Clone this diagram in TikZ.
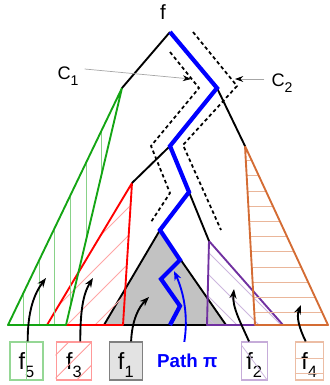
\documentclass[tikz,border=0pt]{standalone}
\usepackage{fontspec}
\setmainfont{Liberation Sans}
\usepackage{tikz}
\usetikzlibrary{positioning, calc, arrows.meta}
\definecolor{treeGreen}{RGB}{20,165,20}
\definecolor{treeRed}{RGB}{255,0,0}
\definecolor{treePurple}{RGB}{112,48,160}
\definecolor{treeOrange}{RGB}{212,108,52}
\definecolor{piBlue}{RGB}{0,0,255}
\newcommand{\lowidx}[2][14]{\raisebox{-0.33em}{\fontsize{#1}{#1}\selectfont #2}}

\begin{document}
\begin{tikzpicture}[
    x=0.03cm, y=-0.03cm,
    edge/.style={line width=1.6pt, line join=round},
    pathpi/.style={draw=piBlue, line width=3.6pt},
    channel/.style={line width=1.5pt, dash pattern=on 3pt off 2.4pt},
    hatch/.style={line width=0.7pt},
    fbox/.style={rectangle, line width=1.1pt, minimum height=32.4pt, inner sep=0pt,
                 text height=19pt, text depth=4pt, font=\fontsize{20}{24}\selectfont},
    flow/.style={line width=1.6pt, -{Stealth[length=8pt, width=6pt]}},
    pointer/.style={draw=gray!70, line width=0.6pt, -{Stealth[black, length=7pt, width=5pt]}}
  ]
  \useasboundingbox (0,0) rectangle (329,385);

  \coordinate (TOP) at (170,32);
  \coordinate (A) at (122,88);
  \coordinate (B) at (217,88);
  \coordinate (C) at (245,146);
  \coordinate (D) at (170,146);
  \coordinate (E) at (132,183);
  \coordinate (G) at (189,192);
  \coordinate (H) at (209,241);
  \coordinate (K) at (160,230);
  \coordinate (P1) at (180,260);
  \coordinate (P2) at (161,279);
  \coordinate (P3) at (180,306);
  \coordinate (P4) at (170,325);

  \coordinate (grayL) at (104,325);
  \coordinate (grayR) at (226,325);
  \coordinate (redL) at (47,325);
  \coordinate (redR) at (123,325);
  \coordinate (greenL) at (8,325);
  \coordinate (greenR) at (66,325);
  \coordinate (purL) at (207,325);
  \coordinate (purR) at (283,325);
  \coordinate (oraL) at (255,325);
  \coordinate (oraR) at (328,325);

  \draw[edge, fill=gray!48] (K) -- (grayL) -- (grayR) -- cycle;

  \begin{scope}
    \clip (E) -- (redL) -- (redR) -- cycle;
    \foreach \c in {336,364,392,420,448}
      \draw[hatch, treeRed!35] ({\c-330},330) -- ({\c-170},170);
  \end{scope}
  \draw[edge, treeRed] (E) -- (redL) -- (redR) -- cycle;

  \begin{scope}
    \clip (A) -- (greenL) -- (greenR) -- cycle;
    \foreach \x in {23,39,54,70,86,101}
      \draw[hatch, treeGreen!50] (\x,80) -- (\x,330);
  \end{scope}
  \draw[edge, treeGreen] (A) -- (greenL) -- (greenR) -- cycle;

  \begin{scope}
    \clip (H) -- (purL) -- (purR) -- cycle;
    \foreach \c in {44,66,88,110}
      \draw[hatch, treePurple!35] (200,{200+\c}) -- (290,{290+\c});
  \end{scope}
  \draw[edge, treePurple] (H) -- (purL) -- (purR) -- cycle;

  \begin{scope}
    \clip (C) -- (oraL) -- (oraR) -- cycle;
    \foreach \y in {160,175,191,206,221,236,251,267,282,297,312}
      \draw[hatch, treeOrange!50] (240,\y) -- (330,\y);
  \end{scope}
  \draw[edge, treeOrange] (C) -- (oraL) -- (oraR) -- cycle;

  \draw[edge] (TOP) -- (A);
  \draw[edge] (B) -- (C);
  \draw[edge] (D) -- (E);
  \draw[edge] (G) -- (H);
  \draw[pathpi] (TOP) -- (B) -- (D) -- (G) -- (K) -- (P1) -- (P2) -- (P3) -- (P4);

  \draw[channel] (170,52) -- (199,88) -- (151,146) -- (170,193) -- (151,222);
  \draw[channel] (193,32) -- (237,86) -- (183,145) -- (221,230);

  \node[font=\fontsize{17.5}{20}\selectfont, inner sep=0pt] (TOPF) at (163,12) {f};
  \node[font=\fontsize{15.5}{18}\selectfont, inner sep=0pt] (C1) at (68,76) {C\lowidx[12]{1}};
  \node[font=\fontsize{15.5}{18}\selectfont, inner sep=0pt] (C2) at (282,83) {C\lowidx[12]{2}};
  \coordinate (c1tip) at (191,79);
  \coordinate (c2tip) at (235,79);
  \draw[pointer] ($(C1.east)+(6,-7)$) -- (c1tip);
  \draw[pointer] ($(C2.west)+(-7,-4)$) -- (c2tip);

  \node[fbox, draw=treeGreen!45, minimum width=28.2pt] (F5) at (26.5,361) {f\lowidx{5}};
  \node[fbox, draw=treeRed!40, minimum width=29.9pt, right=0.36cm of F5] (F3) {f\lowidx{3}};
  \node[fbox, draw=gray, fill=gray!22, minimum width=28.2pt, right=0.5cm of F3] (F1) {f\lowidx{1}};
  \node[text=piBlue, font=\fontsize{16}{19}\selectfont\bfseries, inner sep=0pt,
        right=0.42cm of F1] (PI) {Path π};
  \node[fbox, draw=treePurple!40, minimum width=22.2pt, right=0.69cm of PI] (F2) {f\lowidx{2}};
  \node[fbox, draw=treeOrange!45, minimum width=23.9pt, right=0.8cm of F2] (F4) {f\lowidx{4}};

  \draw[hatch, treeGreen!45] (F5.north) -- (F5.south);
  \begin{scope}
    \clip (F3.south west) rectangle (F3.north east);
    \foreach \k in {-24,-1,22}
      \draw[hatch, treeRed!40] ($(F3)+(\k+30,-30)$) -- ($(F3)+(\k-30,30)$);
  \end{scope}
  \draw[hatch, treePurple!35] ($(F2.north west)+(1,4)$) -- ($(F2.south east)+(-1,-1)$);
  \draw[hatch, treeOrange!45] ($(F4.west)+(0,-3)$) -- ($(F4.east)+(0,-3)$);
  \draw[hatch, treeOrange!45] ($(F4.west)+(0,12)$) -- ($(F4.east)+(0,12)$);

  \coordinate (T5) at (46,278);
  \coordinate (T3) at (93,278);
  \coordinate (T1) at (149,297);
  \coordinate (TP) at (174,271);
  \coordinate (T2) at (234,289);
  \coordinate (T4) at (301,305);
  \draw[flow] ([xshift=1pt]F5.north) .. controls +(0,-30) and +(-12,16) .. (T5);
  \draw[flow] ([xshift=5.5pt]F3.north) .. controls +(0,-30) and +(-10,16) .. (T3);
  \draw[flow] ([xshift=4.5pt]F1.north) .. controls +(1,-22) and +(-10,10) .. (T1);
  \draw[flow, piBlue] ($(PI.north)+(-3,-12)$) .. controls +(4,-25) and +(10,22) .. (TP);
  \draw[flow] ([xshift=-4.5pt]F2.north) .. controls +(-8,-18) and +(-2,18) .. (T2);
  \draw[flow] ([xshift=-3pt]F4.north) .. controls +(-6,-12) and +(-5,12) .. (T4);
\end{tikzpicture}
\end{document}
